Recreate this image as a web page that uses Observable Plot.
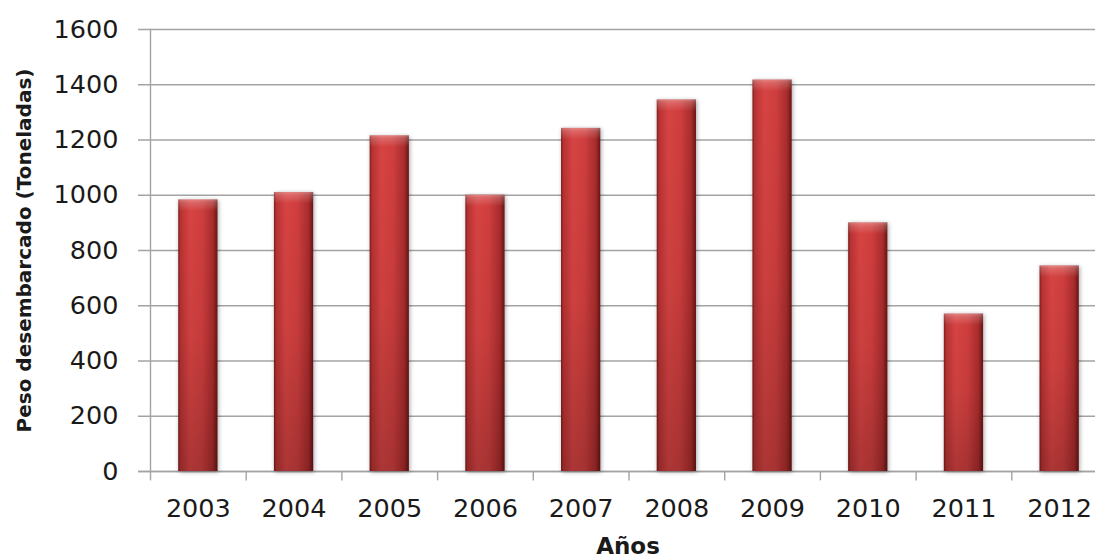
<!DOCTYPE html>
<html>
<head>
<meta charset="utf-8">
<script src="https://cdn.jsdelivr.net/npm/d3@7"></script>
<script src="https://cdn.jsdelivr.net/npm/@observablehq/plot@0.6"></script>
<style>
  html, body { margin: 0; padding: 0; background: #fff; overflow: hidden; }
  #chart { position: relative; width: 1095px; height: 558px; }
  #xtitle { position: absolute; left: 0; width: 1256px; top: 533px; text-align: center;
    font-family: "DejaVu Sans", sans-serif; font-weight: bold; font-size: 23px; color: #1a1a1a; }
</style>
</head>
<body>
<div id="chart"></div>
<script>
const years = ["2003","2004","2005","2006","2007","2008","2009","2010","2011","2012"];
const weights = [983, 1010, 1215, 1000, 1242, 1345, 1417, 900, 570, 744];
const yTicks = [0, 200, 400, 600, 800, 1000, 1200, 1400, 1600];
const yTitle = "Peso desembarcado (Toneladas)";
const xTitle = "Años";

const data = years.map((year, i) => ({year, weight: weights[i]}));

const plot = Plot.plot({
  width: 1095,
  height: 530,
  marginLeft: 150,
  marginRight: 0,
  marginTop: 29,
  marginBottom: 59,
  style: {fontFamily: "DejaVu Sans, sans-serif", fontSize: "25px", color: "#1a1a1a", background: "#fff"},
  x: {domain: years, range: [150, 1107], paddingInner: 0.59, paddingOuter: 0.295, round: false, label: null},
  y: {domain: [0, 1600], label: null},
  marks: [
    Plot.ruleY(yTicks, {stroke: "#a3a3a3", strokeWidth: 1.4, insetLeft: -12}),
    Plot.ruleX(years, {x: d => d, dx: -95.7 / 2, y1: 0, y2: -34, stroke: "#a3a3a3", strokeWidth: 1.4}),
    Plot.ruleY([0], {stroke: "#a3a3a3", strokeWidth: 1.4, insetLeft: -12}),
    Plot.frame({anchor: "left", stroke: "#a3a3a3", strokeWidth: 1.4}),
    Plot.barY(data, {x: "year", y: "weight", fill: "url(#barH)"}),
    Plot.barY(data, {x: "year", y: "weight", fill: "url(#barV)"}),
    Plot.rect(data, {x: "year", y1: d => d.weight, y2: d => d.weight - 42, fill: "url(#bevel)"}),
    Plot.axisY({ticks: yTicks, tickSize: 0, tickPadding: 32, fontSize: 25.5, tickFormat: d => String(d)}),
    Plot.axisX({tickSize: 0, tickPadding: 27, fontSize: 25.5}),
    Plot.axisY({ticks: [], label: yTitle, labelAnchor: "center", labelArrow: false, labelOffset: 134, fontSize: 20, fontWeight: "bold"})
  ]
});

const svg = d3.select(plot);
const defs = svg.insert("defs", ":first-child");
const gh = defs.append("linearGradient").attr("id", "barH").attr("x1", 0).attr("x2", 1).attr("y1", 0).attr("y2", 0);
[[0, "#7e1c1c"], [0.06, "#b83232"], [0.3, "#d74343"], [0.6, "#cf3e3e"], [0.88, "#a92c2c"], [1, "#6a1414"]]
  .forEach(([o, c]) => gh.append("stop").attr("offset", o).attr("stop-color", c));
const gv = defs.append("linearGradient").attr("id", "barV").attr("x1", 0).attr("x2", 0).attr("y1", 0).attr("y2", 1);
[[0, "#000", 0], [0.5, "#000", 0.05], [1, "#000", 0.2]]
  .forEach(([o, c, a]) => gv.append("stop").attr("offset", o).attr("stop-color", c).attr("stop-opacity", a));
const gb = defs.append("linearGradient").attr("id", "bevel").attr("x1", 0).attr("x2", 0).attr("y1", 0).attr("y2", 1);
[[0, "#fff", 0.35], [0.25, "#fff", 0.2], [1, "#fff", 0]]
  .forEach(([o, c, a]) => gb.append("stop").attr("offset", o).attr("stop-color", c).attr("stop-opacity", a));
svg.select('g[aria-label="bar"]').style("filter", "drop-shadow(1px 1px 2px rgba(0,0,0,0.35))");
svg.selectAll('g[aria-label="y-axis label"] text').style("font-weight", "bold").style("font-size", "20px");

const container = document.getElementById("chart");
container.appendChild(plot);
const t = document.createElement("div");
t.id = "xtitle";
t.textContent = xTitle;
container.appendChild(t);
</script>
</body>
</html>
